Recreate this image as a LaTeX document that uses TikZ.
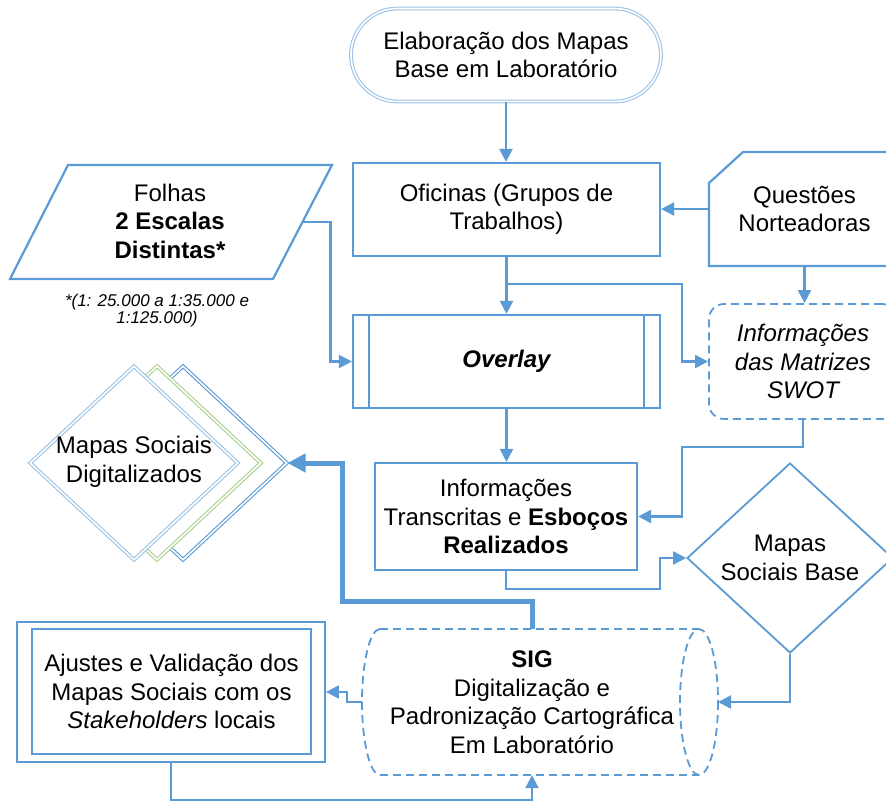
\documentclass[tikz,border=0pt]{standalone}
\usepackage{fontspec}
\setmainfont{Liberation Sans}
\usetikzlibrary{arrows.meta,shapes.geometric,shapes.misc,calc}
\definecolor{ln}{HTML}{5B9BD5}
\definecolor{lnl}{HTML}{9DC3E6}
\definecolor{lng}{HTML}{A9D18E}
\begin{document}
\begin{tikzpicture}[x=1pt,y=-1pt,
  txt/.style={align=center,font=\fontsize{24}{28.5}\selectfont,inner sep=0pt},
  bx/.style={draw=ln,line width=2.2pt},
  conn/.style={draw=ln,line width=2.2pt,-{Triangle[length=13pt,width=13pt]}},
  thickconn/.style={draw=ln,line width=5pt,-{Triangle[length=18pt,width=18pt]}},
  dbl/.style={line width=1.1pt,double=white,double distance=1.6pt},
  dashln/.style={draw=ln,line width=1.8pt,dash pattern=on 8pt off 5pt}
]
\useasboundingbox (0,0) rectangle (886,803);
\clip (0,0) rectangle (886,803);

% top terminal
\node[txt,draw=lnl,dbl,rounded rectangle,minimum width=310pt,minimum height=93pt] (top) at (506,55) {Elaboração dos Mapas\\Base em Laboratório};

% Oficinas
\node[txt,bx,minimum width=307pt,minimum height=93pt] (ofi) at (506.5,209.5) {Oficinas (Grupos de\\Trabalhos)};

% Overlay
\node[txt,bx,minimum width=307pt,minimum height=93pt,font=\fontsize{24}{28.5}\selectfont\bfseries\itshape] (ov) at (506.5,361.5) {Overlay};
\draw[bx] ($(ov.north west)+(17,0)$) -- ($(ov.south west)+(17,0)$);
\draw[bx] ($(ov.north east)+(-17,0)$) -- ($(ov.south east)+(-17,0)$);

% Informacoes transcritas
\node[txt,bx,minimum width=262pt,minimum height=107pt] (info) at (506,516.5) {Informações\\Transcritas e \textbf{Esboços}\\\textbf{Realizados}};

% Questoes Norteadoras
\draw[bx] (910,152) -- (743,152) -- (709,183) -- (709,266) -- (910,266);
\node[txt,minimum width=191pt,minimum height=114pt] (q) at (804.5,209) {Questões\\Norteadoras};

% SWOT
\node[txt,dashln,rounded corners=15pt,minimum width=188pt,minimum height=115pt,font=\fontsize{24}{28.5}\selectfont\itshape] (swot) at (803,361.5) {Informações\\das Matrizes\\SWOT};

% Folhas
\draw[bx] (68,165) -- (332,165) -- (273,279) -- (10,279) -- cycle;
\node[txt] (fol) at (170,221) {Folhas\\\textbf{2 Escalas}\\\textbf{Distintas*}};
\coordinate (folR) at ($(332,165)!0.5!(273,279)$);
\node[txt,font=\fontsize{17}{17}\selectfont\itshape] (fn) at (157,311) {*(1: 25.000 a 1:35.000 e\\1:125.000)};

% Mapas Sociais Base
\node[txt,diamond,draw=ln,line width=1.8pt,minimum width=206pt,minimum height=190pt] (mb) at (790,558) {Mapas\\Sociais Base};

% Mapas Sociais Digitalizados stack
\node[diamond,draw=ln,dbl,fill=white,minimum width=208pt,minimum height=194pt] (msd3) at (183,463) {};
\node[diamond,draw=lng,dbl,fill=white,minimum width=208pt,minimum height=194pt] (msd2) at (157,463) {};
\node[diamond,draw=lnl,dbl,fill=white,minimum width=208pt,minimum height=194pt] (msd) at (134,463) {};
\node[txt] (msdt) at (134,462) {Mapas Sociais\\Digitalizados};

% SIG cylinder
\draw[dashln] (380,629) -- (698,629);
\draw[dashln] (380,775) -- (698,775);
\draw[dashln] (380,629) .. controls (370,629) and (362,662) .. (362,702) .. controls (362,742) and (370,775) .. (380,775);
\draw[dashln] (699,702) ellipse [x radius=19, y radius=73];
\node[txt,minimum height=146pt,minimum width=300pt] (sig) at (532,702) {\textbf{SIG}\\Digitalização e\\Padronização Cartográfica\\Em Laboratório};
\coordinate (sigW) at (362,702);
\coordinate (sigE) at (718,702);

% Ajustes
\node[draw=ln,line width=1.8pt,minimum width=308pt,minimum height=140pt] (ajo) at (171,692) {};
\node[txt,draw=ln,line width=1.8pt,minimum width=279pt,minimum height=125pt] (aj) at (171.5,691.5) {Ajustes e Validação dos\\Mapas Sociais com os\\\textit{Stakeholders} locais};

% connectors
\draw[conn] (top.south) -- (top.south |- ofi.north);
\draw[conn] (ofi.south) -- (ofi.south |- ov.north);
\draw[conn] ($(ofi.south)+(0,27)$) -| ($(swot.west)+(-26,0)$) -- (swot.west);
\draw[conn] (q.west) -- (q.west -| ofi.east);
\draw[conn] (q.south) -- (q.south |- swot.north);
\draw[conn] (folR) -- ++(28,0) |- (ov.west);
\draw[conn] (ov.south) -- (ov.south |- info.north);
\draw[conn] (swot.south) -- ++(0,27) -| ($(info.east)+(44,0)$) -- (info.east);
\draw[conn] (info.south) |- ($(mb.west)+(-26,31)$) |- (mb.west);
\draw[conn] (mb.south) |- (sigE);
\draw[conn] (sigW) -- ++(-15,0) |- (ajo.east);
\draw[conn] (ajo.south) -- ++(0,37) -| (sig.south);
\draw[thickconn] (sig.north) |- ($(msd3.east)+(55,138)$) |- (msd3.east);
\end{tikzpicture}
\end{document}
